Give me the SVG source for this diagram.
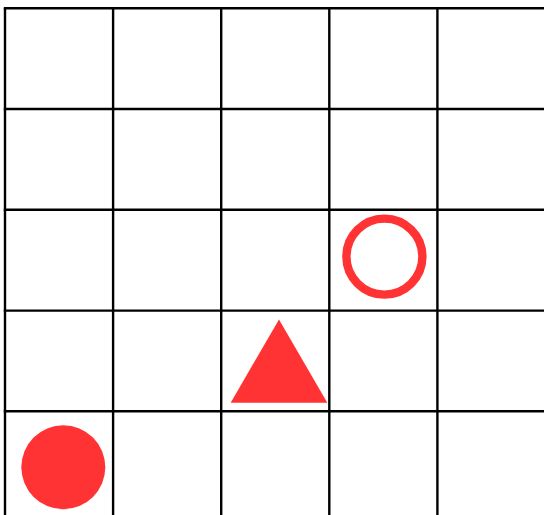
<svg xmlns="http://www.w3.org/2000/svg" width="544" height="515" viewBox="0 0 544 515">
<style>
.grid line{stroke:#000;stroke-width:2.4}
.shape{fill:#FF3333}
</style>
<rect width="544" height="515" fill="#fff"/>
<g id="grid" class="grid">
<line x1="5" y1="8.3" x2="5" y2="515"/>
<line x1="113.1" y1="8.3" x2="113.1" y2="515"/>
<line x1="221.2" y1="8.3" x2="221.2" y2="515"/>
<line x1="329.3" y1="8.3" x2="329.3" y2="515"/>
<line x1="437.4" y1="8.3" x2="437.4" y2="515"/>
<line x1="3.8" y1="8.3" x2="544" y2="8.3"/>
<line x1="3.8" y1="109" x2="544" y2="109"/>
<line x1="3.8" y1="209.8" x2="544" y2="209.8"/>
<line x1="3.8" y1="310.6" x2="544" y2="310.6"/>
<line x1="3.8" y1="411.2" x2="544" y2="411.2"/>
</g>
<g id="ring"><circle cx="384.4" cy="256.6" r="38" fill="none" stroke="#FF3333" stroke-width="8.4"/></g>
<g id="triangle"><polygon class="shape" points="279,319.5 327.3,402.7 230.7,402.7"/></g>
<g id="dot"><circle class="shape" cx="63.3" cy="467.3" r="42"/></g>
</svg>
